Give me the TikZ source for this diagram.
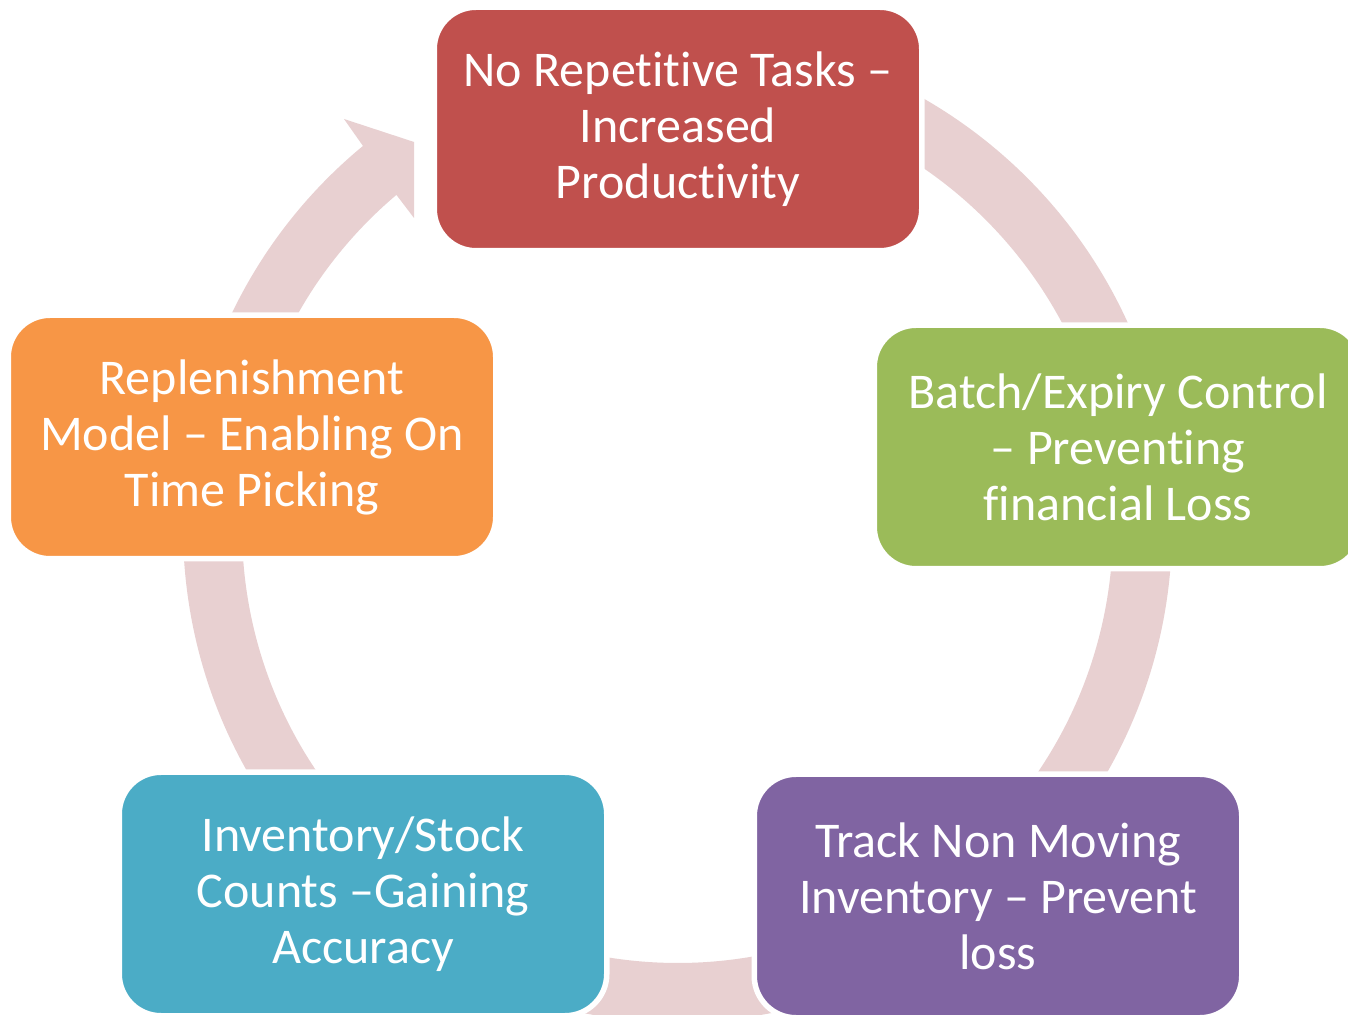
\documentclass[tikz,border=0pt]{standalone}
\usepackage{fontspec}
\setmainfont{Carlito}[Ligatures={NoCommon,NoRequired,NoContextual},Contextuals=NoAlternate]
\usetikzlibrary{calc}
\newcommand\nolig{\kern0pt}
\definecolor{cRed}{HTML}{C0504D}
\definecolor{cGreen}{HTML}{9BBB59}
\definecolor{cPurple}{HTML}{8064A2}
\definecolor{cTeal}{HTML}{4BACC6}
\definecolor{cOrange}{HTML}{F79646}
\definecolor{cRing}{HTML}{E8D0D1}
\tikzset{
  stagebox/.style={rectangle, rounded corners=41.75pt, draw=white, line width=5.5pt,
    minimum width=487.5pt, minimum height=243.5pt, inner sep=0pt, align=center,
    text=white, font=\fontsize{50}{56}\selectfont},
  ringshape/.style={fill=cRing, draw=none}
}
\begin{document}
\begin{tikzpicture}[x=1pt,y=1pt]
\path[use as bounding box, fill=white] (0,0) rectangle (1348,1014);
\coordinate (C) at (677.5,486.5);
% ring with arrowhead
\path[ringshape] ($(C)+(95:494.5)$) arc[start angle=95, end angle=-230.5, radius=494.5]
  -- (344,895) -- (414,872) -- (414,796)
  -- ($(C)+(-229.8:435.5)$) arc[start angle=-229.8, end angle=95, radius=435.5] -- cycle;
% boxes
\node[stagebox, fill=cRed]    (top)   at (678,885)   {No Repet\nolig it\nolig ive Tasks –\\Increased\\Product\nolig ivity};
\node[stagebox, fill=cGreen]  (batch) at (1118,567) {Batch/Expiry Control\\– Prevent\nolig ing\\f\nolig inancial Loss};
\node[stagebox, fill=cPurple] (track) at (998,118)   {Track Non Moving\\Inventory – Prevent\\loss};
\node[stagebox, fill=cTeal]   (inv)   at (363,120)   {Inventory/Stock\\Counts –Gaining\\Accuracy};
\node[stagebox, fill=cOrange] (repl)  at (252,577)   {Replenishment\\Model – Enabling On\\Time Picking};
\end{tikzpicture}
\end{document}
